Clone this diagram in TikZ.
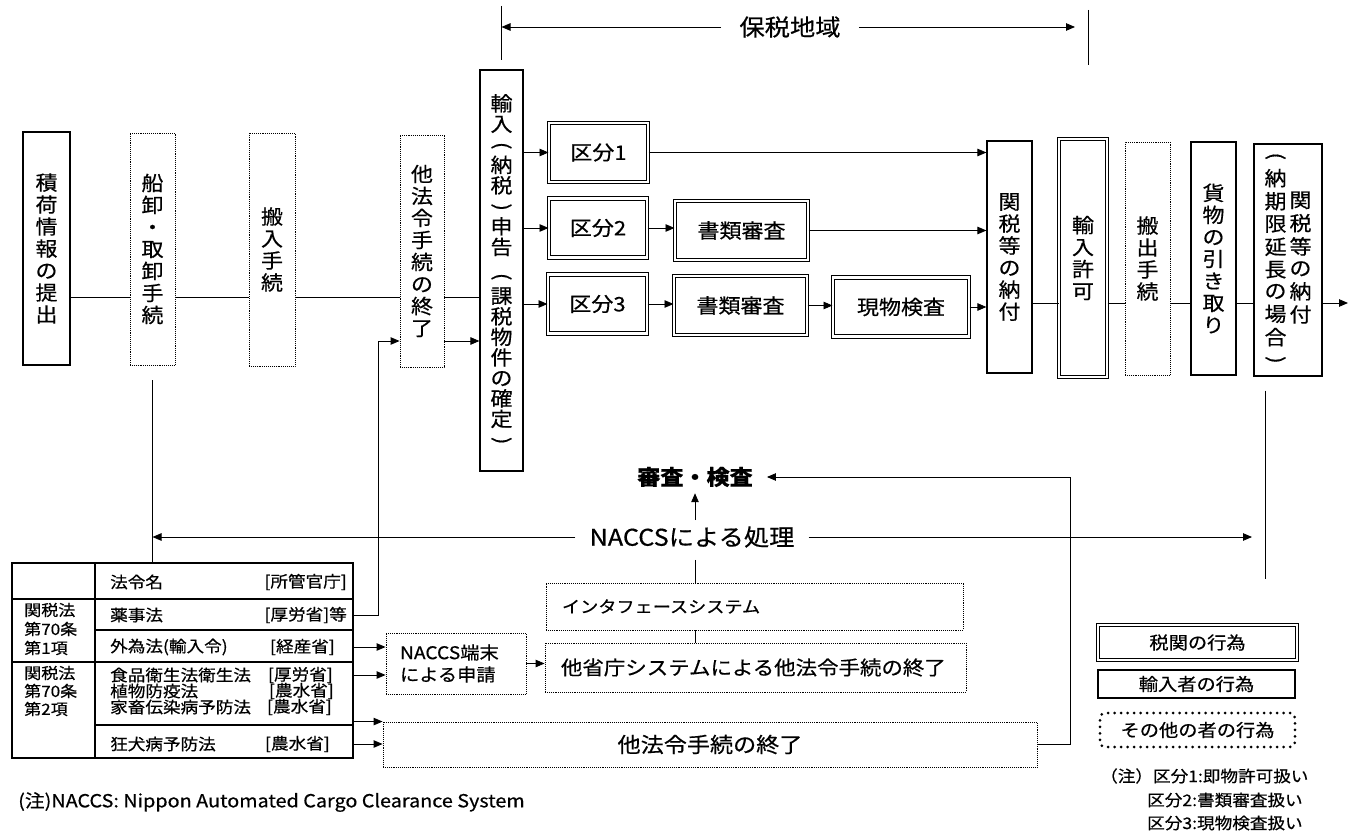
\documentclass[tikz,border=0pt]{standalone}
\usepackage{graphicx}
\usepackage{fontspec}
\setmainfont{Noto Sans CJK JP}[FakeStretch=1.1,FakeBold=0.5]
\usetikzlibrary{arrows.meta,calc}

\newcommand{\tatecol}[1]{\begin{tabular}[c]{@{}c@{}}#1\end{tabular}}
\newcommand{\vlp}{\rotatebox[origin=c]{-90}{(}}
\newcommand{\vrp}{\rotatebox[origin=c]{-90}{)}}

\tikzset{
  solidbox/.style={draw,line width=1.2pt,inner sep=0pt},
  dblbox/.style={draw,double,double distance=2.4pt,line width=1pt,inner sep=0pt},
  dotbox/.style={draw,densely dotted,line width=0.9pt,inner sep=0pt},
  tate/.style={align=center,font=\fontsize{20}{22}\selectfont},
  kbox/.style={dblbox,minimum height=59,font=\fontsize{20}{22}\selectfont},
  tcell/.style={anchor=west,inner sep=0pt,font=\fontsize{16}{17}\selectfont},
  link/.style={line width=0.9pt},
  arr/.style={line width=0.9pt,-{Triangle[length=9pt,width=7.5pt]}},
}

\begin{document}
\begin{tikzpicture}[x=1pt,y=-1pt]
  \fill[white] (0,0) rectangle (1357,834);
  \useasboundingbox (0,0) rectangle (1357,834);

  % bonded area
  \node[font=\fontsize{23}{26}\selectfont,inner xsep=18pt] (bond) at (790,27) {保税地域};
  \coordinate (bondL) at (501.5,27);
  \coordinate (bondR) at (1088,27);
  \draw[line width=0.6pt] (bondL) ++(0,-21) -- ++(0,54);
  \draw[line width=0.6pt] (bondR) ++(0,-17) -- ++(0,55);
  \draw[arr] (bond.west) -- (bondL);
  \draw[arr] (bond.east) -- ([xshift=-13pt]bondR);

  % flow, left part
  \node[solidbox,tate,minimum width=47,minimum height=233] (cargo) at (46.5,248.5) {積\\荷\\情\\報\\の\\提\\出};
  \node[dotbox,tate,minimum width=45,minimum height=232] (ship) at (152.5,249) {船\\卸\\・\\取\\卸\\手\\続};
  \node[dotbox,tate,minimum width=46,minimum height=233] (carryin) at (272,249.5) {搬\\入\\手\\続};
  \node[dotbox,tate,minimum width=44,minimum height=232] (otherlaw) at (422,251) {他\\法\\令\\手\\続\\の\\終\\了};
  \node[solidbox,tate,minimum width=43,minimum height=401,font=\fontsize{20}{20.5}\selectfont] (declare) at (501.5,270.5)
    {輸\\入\\\vlp\\納\\税\\\vrp\\申\\告\\[8pt]\vlp\\課\\税\\物\\件\\の\\確\\定\\\vrp};

  % categories
  \node[kbox,minimum width=99] (k1) at (598.5,152.5) {区分1};
  \node[kbox,minimum width=98] (k2) at (598,228) {区分2};
  \node[kbox,minimum width=133] (doc2) at (741.5,230.5) {書類審査};
  \node[kbox,minimum width=99] (k3) at (597.5,304) {区分3};
  \node[kbox,minimum width=133] (doc3) at (740.5,305.5) {書類審査};
  \node[kbox,minimum width=136] (phys) at (901,307) {現物検査};

  % flow, right part
  \node[solidbox,tate,minimum width=45,minimum height=232] (pay) at (1009.5,257) {関\\税\\等\\の\\納\\付};
  \node[dblbox,tate,minimum width=48,minimum height=238] (permit) at (1083,258) {輸\\入\\許\\可};
  \node[dotbox,tate,minimum width=45,minimum height=233] (carryout) at (1147.5,258.5) {搬\\出\\手\\続};
  \node[solidbox,tate,minimum width=45,minimum height=233] (receive) at (1213.5,258.5) {貨\\物\\の\\引\\き\\取\\り};
  \node[solidbox,minimum width=68,minimum height=232,font=\fontsize{20}{21.5}\selectfont] (paylate) at (1288,260)
    {\tatecol{\vlp\\納\\期\\限\\延\\長\\の\\場\\合\\\vrp}\hspace{3pt}\tatecol{関\\税\\等\\の\\納\\付}};

  \coordinate (mainL) at (0,297);
  \coordinate (mainR) at (0,303);
  \coordinate (exit) at (1348,303);
  \draw[link] (cargo.east |- mainL) -- (ship.west |- mainL)
    (ship.east |- mainL) -- (carryin.west |- mainL)
    (carryin.east |- mainL) -- (otherlaw.west |- mainL)
    (otherlaw.east |- mainL) -- (declare.west |- mainL);
  \draw[arr] (declare.east |- k1.west) -- (k1.west);
  \draw[arr] (declare.east |- k2.west) -- (k2.west);
  \draw[arr] (declare.east |- k3.west) -- (k3.west);
  \draw[arr] (k1.east) -- (pay.west |- k1.east);
  \draw[arr] (k2.east) -- (doc2.west |- k2.east);
  \draw[arr] (doc2.east) -- (pay.west |- doc2.east);
  \draw[arr] (k3.east) -- (doc3.west |- k3.east);
  \draw[arr] (doc3.east) -- (phys.west |- doc3.east);
  \draw[arr] (phys.east) -- (pay.west |- phys.east);
  \draw[link] (pay.east |- mainR) -- (permit.west |- mainR)
    (permit.east |- mainR) -- (carryout.west |- mainR)
    (carryout.east |- mainR) -- (receive.west |- mainR)
    (receive.east |- mainR) -- (paylate.west |- mainR);
  \draw[arr] (paylate.east |- mainR) -- (exit);

  % NACCS
  \node[font=\fontsize{23}{26}\selectfont,inner xsep=14pt,inner ysep=6pt] (naccs) at (692,537) {NACCSによる処理};
  \node[font=\bfseries\fontsize{21}{24}\selectfont,inner xsep=14pt,inner ysep=6pt] (review) at (695,477) {審査・検査};
  \coordinate (dropT) at ($(paylate.south)+(-23,14)$);
  \coordinate (dropB) at ($(dropT)+(0,188)$);
  \draw[link] (dropT) -- (dropB);
  \draw[arr] (naccs.east) -- ([xshift=-13pt]naccs -| dropT);
  \draw[arr] (naccs.west) -- (ship.south |- naccs);
  \draw[arr] (review.south |- naccs.north) -- (review.south);

  % other ministries
  \node[dotbox,minimum width=417,minimum height=47,text width=385,inner xsep=16pt,align=left,font=\fontsize{16.5}{20}\selectfont] (iface) at (754.5,606.5) {インタフェースシステム};
  \node[dotbox,minimum width=140,minimum height=61,text width=112,inner xsep=14pt,align=left,font=\fontsize{17.5}{22}\selectfont] (term) at (456,663.5) {NACCS端末\\による申請};
  \node[dotbox,minimum width=421,minimum height=49,text width=389,inner xsep=16pt,align=left,font=\fontsize{19.5}{24}\selectfont] (osys) at (755.5,667.5) {他省庁システムによる他法令手続の終了};
  \node[dotbox,minimum width=654,minimum height=45,font=\fontsize{21}{24}\selectfont] (olend) at (710,744.5) {他法令手続の終了};
  \coordinate (ret) at (1070,477);
  \draw[link] ([yshift=-6pt]naccs.south -| review) -- (iface.north -| review);
  \draw[link] (iface.south -| review) -- (osys.north -| review);
  \draw[arr] (term.east) -- (osys.west |- term.east);
  \draw[arr] (olend.east) -| (ret) -- (review.east);

  % table of laws
  \node[draw,line width=1.1pt,minimum width=341,minimum height=195,inner sep=0pt] (tbl) at (182.5,660.5) {};
  \draw[line width=1.1pt] (95,563) -- (95,758) (12,599) -- (353,599) (95,630) -- (353,630)
    (12,662) -- (353,662) (95,725) -- (353,725);
  \node[tcell,align=left,font=\fontsize{15.5}{19}\selectfont] (art1) at (24,629) {関税法\\第70条\\第1項};
  \node[tcell,align=left,font=\fontsize{15.5}{18}\selectfont] (art2) at (24,691) {関税法\\第70条\\第2項};
  \node[tcell] (hdr) at (110,582) {法令名};
  \node[tcell,anchor=east] (hdrm) at (347,582) {[所管官庁]};
  \node[tcell] (yak) at (110,615) {薬事法};
  \node[tcell,anchor=east] (yakm) at (347,615) {[厚労省]等};
  \node[tcell] (gaii) at (110,647) {外為法(輸入令)};
  \node[tcell,anchor=east] (gaiim) at (335,647) {[経産省]};
  \node[tcell] (food) at (110,675) {食品衛生法衛生法};
  \node[tcell,anchor=east] (foodm) at (333,675) {[厚労省]};
  \node[tcell] (plant) at (110,691) {植物防疫法};
  \node[tcell,anchor=east] (plantm) at (334,691) {[農水省]};
  \node[tcell] (kachiku) at (110,707) {家畜伝染病予防法};
  \node[tcell,anchor=east] (kachikum) at (332,707) {[農水省]};
  \node[tcell] (kyoken) at (110,744) {狂犬病予防法};
  \node[tcell,anchor=east] (kyokenm) at (330,744) {[農水省]};

  \coordinate (jy) at (378,341);
  \draw[link] ([yshift=-15pt]ship.south) -- (ship.south |- tbl.north);
  \draw[arr] (tbl.east |- yak) -| (jy) -- (otherlaw.west |- jy);
  \draw[arr] (otherlaw.east |- jy) -- (declare.west |- jy);
  \draw[arr] (tbl.east |- gaii) -- (term.west |- gaii);
  \draw[arr] (tbl.east |- food) -- (term.west |- food);
  \draw[arr] (tbl.east |- olend.north west) -- (olend.north west);
  \draw[arr] (tbl.east |- kyoken) -- (olend.west |- kyoken);

  % legend and notes
  \node[dblbox,minimum width=199,minimum height=35,font=\fontsize{17.5}{20}\selectfont] (lgcustoms) at (1197.5,642.5) {税関の行為};
  \node[solidbox,minimum width=197,minimum height=28,font=\fontsize{17.5}{20}\selectfont] (lgimporter) at (1196.5,684) {輸入者の行為};
  \node[draw,line width=3pt,line cap=round,dash pattern=on 0pt off 6.5pt,rounded corners=5pt,
    minimum width=195,minimum height=34,font=\fontsize{17.5}{20}\selectfont] (lgother) at (1197.5,730) {その他の者の行為};
  \node[tcell,font=\fontsize{16}{19}\selectfont] (note1) at (1100,776) {（注）区分1:即物許可扱い};
  \node[tcell,font=\fontsize{16}{19}\selectfont] (note2) at (1147,800) {区分2:書類審査扱い};
  \node[tcell,font=\fontsize{16}{19}\selectfont] (note3) at (1147,823) {区分3:現物検査扱い};
  \node[tcell,font=\fontsize{18}{20}\selectfont] (fnote) at (18,802) {(注)NACCS: Nippon Automated Cargo Clearance System};
\end{tikzpicture}
\end{document}
